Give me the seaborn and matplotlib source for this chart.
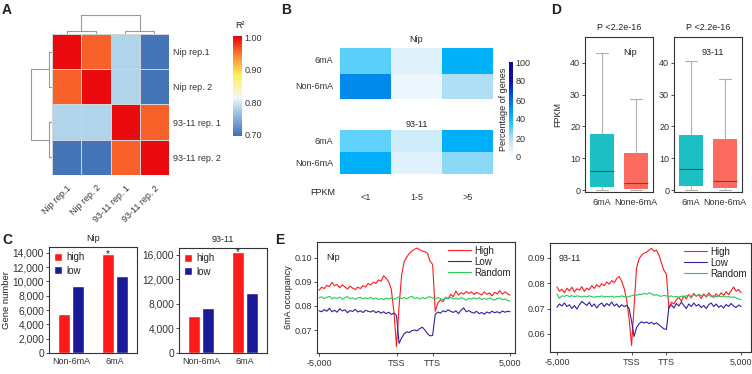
import matplotlib
matplotlib.use("Agg")
import matplotlib.pyplot as plt
import numpy as np
import pandas as pd
import seaborn as sns
from matplotlib.colors import LinearSegmentedColormap
from matplotlib.ticker import FuncFormatter

W, H = 752, 374

# ---- A: replicate correlation (R^2)
REPLICATES = ["Nip rep.1", "Nip rep. 2", "93-11 rep. 1", "93-11 rep. 2"]
R2 = [
    [1.00, 0.96, 0.78, 0.70],
    [0.96, 1.00, 0.78, 0.70],
    [0.78, 0.78, 1.00, 0.96],
    [0.70, 0.70, 0.96, 1.00],
]

# ---- B: percentage of genes per FPKM bin
FPKM_BINS = ["<1", "1-5", ">5"]
B_ROWS = ["6mA", "Non-6mA"]
PCT_NIP = [[30, 8, 43], [52, 5, 20]]
PCT_9311 = [[29, 12, 44], [44, 8, 24]]

# ---- C: gene numbers
C_GROUPS = ["Non-6mA", "6mA"]
NIP_HIGH = [5400, 13800]
NIP_LOW = [9300, 10700]
I93_HIGH = [6100, 16400]
I93_LOW = [7400, 9800]

# ---- D: FPKM five-number summaries (min, q1, median, q3, max)
D_GROUPS = ["6mA", "None-6mA"]
NIP_6MA = [0.0, 1.0, 6.0, 17.8, 43.0]
NIP_NON = [0.0, 0.3, 2.2, 11.8, 28.6]
I93_6MA = [0.0, 1.5, 6.8, 17.2, 40.6]
I93_NON = [0.0, 0.8, 3.0, 16.0, 35.0]

# ---- E: 6mA occupancy profiles (upstream 30 bins, gene body 14, downstream 30)
E_TICKS = [0, 30, 44, 74]
E_TICKLABELS = ["-5,000", "TSS", "TTS", "5,000"]
NIP_HIGH_E = [
    0.0865, 0.0878, 0.0872, 0.0885, 0.0880, 0.0898, 0.0884, 0.0889, 0.0876, 0.0887,
    0.0879, 0.0870, 0.0882, 0.0874, 0.0868, 0.0878, 0.0872, 0.0884, 0.0879, 0.0893,
    0.0887, 0.0899, 0.0893, 0.0908, 0.0902, 0.0925, 0.0915, 0.0900, 0.0868, 0.0775,
    0.0632, 0.0800, 0.0930, 0.0985, 0.1003, 0.1018, 0.1028, 0.1035, 0.1040, 0.1033,
    0.1027, 0.1025, 0.1018, 0.0985, 0.0972,
    0.0778, 0.0812, 0.0825, 0.0818, 0.0836, 0.0830, 0.0848, 0.0838, 0.0862, 0.0845,
    0.0855, 0.0849, 0.0860, 0.0852, 0.0858, 0.0847, 0.0856, 0.0851, 0.0846, 0.0858,
    0.0848, 0.0854, 0.0842, 0.0857, 0.0850, 0.0863, 0.0849, 0.0858, 0.0851, 0.0845,
]
NIP_LOW_E = [
    0.0780, 0.0776, 0.0785, 0.0778, 0.0790, 0.0776, 0.0782, 0.0774, 0.0788, 0.0779,
    0.0784, 0.0772, 0.0781, 0.0777, 0.0786, 0.0775, 0.0780, 0.0773, 0.0782, 0.0778,
    0.0775, 0.0781, 0.0772, 0.0778, 0.0770, 0.0776, 0.0768, 0.0774, 0.0765, 0.0770,
    0.0760, 0.0645, 0.0668, 0.0685, 0.0693, 0.0690, 0.0698, 0.0700, 0.0697, 0.0706,
    0.0712, 0.0700, 0.0685, 0.0676, 0.0678,
    0.0765, 0.0775, 0.0770, 0.0780, 0.0776, 0.0784, 0.0778, 0.0773, 0.0780, 0.0768,
    0.0782, 0.0792, 0.0776, 0.0781, 0.0774, 0.0770, 0.0778, 0.0768, 0.0773, 0.0766,
    0.0775, 0.0770, 0.0778, 0.0772, 0.0776, 0.0770, 0.0779, 0.0774, 0.0778, 0.0776,
]
NIP_RANDOM_E = [
    0.0834, 0.0838, 0.0830, 0.0836, 0.0840, 0.0829, 0.0835, 0.0831, 0.0837, 0.0828,
    0.0833, 0.0839, 0.0830, 0.0834, 0.0827, 0.0833, 0.0836, 0.0829, 0.0834, 0.0830,
    0.0836, 0.0828, 0.0833, 0.0827, 0.0831, 0.0826, 0.0832, 0.0829, 0.0834, 0.0828,
    0.0832, 0.0838, 0.0830, 0.0835, 0.0829, 0.0836, 0.0840, 0.0831, 0.0834, 0.0829,
    0.0835, 0.0830, 0.0836, 0.0838, 0.0833,
    0.0829, 0.0835, 0.0831, 0.0826, 0.0834, 0.0830, 0.0836, 0.0828, 0.0833, 0.0827,
    0.0835, 0.0830, 0.0824, 0.0832, 0.0828, 0.0834, 0.0829, 0.0835, 0.0826, 0.0831,
    0.0827, 0.0833, 0.0828, 0.0824, 0.0830, 0.0834, 0.0826, 0.0829, 0.0823, 0.0820,
]
I93_HIGH_E = [
    0.0785, 0.0768, 0.0776, 0.0762, 0.0780, 0.0770, 0.0784, 0.0765, 0.0778, 0.0772,
    0.0786, 0.0768, 0.0780, 0.0774, 0.0790, 0.0779, 0.0794, 0.0785, 0.0798, 0.0790,
    0.0805, 0.0796, 0.0810, 0.0802, 0.0818, 0.0826, 0.0808, 0.0780, 0.0735, 0.0660,
    0.0555, 0.0710, 0.0860, 0.0895, 0.0910, 0.0918, 0.0922, 0.0930, 0.0937, 0.0925,
    0.0930, 0.0910, 0.0880, 0.0850, 0.0835,
    0.0700, 0.0725, 0.0718, 0.0735, 0.0745, 0.0728, 0.0750, 0.0738, 0.0755, 0.0742,
    0.0760, 0.0748, 0.0756, 0.0740, 0.0758, 0.0745, 0.0762, 0.0750, 0.0744, 0.0758,
    0.0748, 0.0762, 0.0752, 0.0766, 0.0755, 0.0770, 0.0785, 0.0768, 0.0775, 0.0762,
]
I93_LOW_E = [
    0.0705, 0.0718, 0.0710, 0.0722, 0.0708, 0.0715, 0.0700, 0.0712, 0.0698, 0.0715,
    0.0728, 0.0720, 0.0712, 0.0725, 0.0708, 0.0718, 0.0702, 0.0715, 0.0722, 0.0708,
    0.0720, 0.0712, 0.0726, 0.0710, 0.0718, 0.0705, 0.0715, 0.0708, 0.0712, 0.0700,
    0.0650, 0.0590, 0.0625, 0.0640, 0.0648, 0.0643, 0.0647, 0.0641, 0.0646, 0.0638,
    0.0644, 0.0636, 0.0628, 0.0620, 0.0618,
    0.0705, 0.0715, 0.0702, 0.0720, 0.0710, 0.0725, 0.0712, 0.0700, 0.0718, 0.0708,
    0.0722, 0.0710, 0.0716, 0.0704, 0.0712, 0.0700, 0.0715, 0.0722, 0.0708, 0.0718,
    0.0705, 0.0712, 0.0702, 0.0716, 0.0708, 0.0720, 0.0710, 0.0704, 0.0714, 0.0708,
]
I93_RANDOM_E = [
    0.0757, 0.0740, 0.0750, 0.0748, 0.0752, 0.0747, 0.0751, 0.0746, 0.0750, 0.0748,
    0.0745, 0.0749, 0.0746, 0.0750, 0.0747, 0.0744, 0.0748, 0.0746, 0.0750, 0.0745,
    0.0748, 0.0746, 0.0749, 0.0744, 0.0748, 0.0746, 0.0750, 0.0747, 0.0745, 0.0748,
    0.0750, 0.0754, 0.0752, 0.0757, 0.0755, 0.0760, 0.0756, 0.0762, 0.0758, 0.0752,
    0.0755, 0.0750, 0.0748, 0.0752, 0.0750,
    0.0747, 0.0750, 0.0745, 0.0748, 0.0744, 0.0749, 0.0746, 0.0750, 0.0752, 0.0748,
    0.0754, 0.0750, 0.0755, 0.0751, 0.0753, 0.0749, 0.0752, 0.0748, 0.0751, 0.0747,
    0.0750, 0.0746, 0.0749, 0.0745, 0.0748, 0.0744, 0.0746, 0.0742, 0.0738, 0.0735,
]

RED = "#FF1A1A"
NAVY = "#1A1A99"
TEAL = "#1CBFC3"
SALMON = "#FB6B5F"
GRAY = "#9a9a9a"

sns.set_style("ticks")
plt.rcParams["font.family"] = ["Liberation Sans", "DejaVu Sans"]
plt.rcParams.update({
    "font.size": 6.5,
    "axes.linewidth": 0.8,
    "axes.edgecolor": "#333333",
    "xtick.major.size": 2,
    "ytick.major.size": 2,
    "xtick.major.width": 0.6,
    "ytick.major.width": 0.6,
    "xtick.labelsize": 6.5,
    "ytick.labelsize": 6.5,
    "xtick.major.pad": 2,
    "ytick.major.pad": 1.5,
    "text.color": "#222222",
    "xtick.color": "#333333",
    "ytick.color": "#333333",
    "axes.labelcolor": "#222222",
})

fig = plt.figure(figsize=(W / 100, H / 100), dpi=100)


def px_axes(x0, y0, x1, y1):
    return fig.add_axes([x0 / W, 1 - y1 / H, (x1 - x0) / W, (y1 - y0) / H])


def letter(x, y, s):
    fig.text(x / W, 1 - y / H, s, fontsize=10, fontweight="bold", ha="left", va="top")


# ================= A =================
r2_df = pd.DataFrame(R2, index=REPLICATES, columns=REPLICATES)
a_cmap = LinearSegmentedColormap.from_list(
    "r2", [(0.0, "#3E6FB6"), (0.3, "#BBDDEF"), (0.38, "#F3F8F2"),
           (0.62, "#FFEE55"), (0.82, "#F97A30"), (1.0, "#E8000B")])
ax_a = px_axes(52, 34, 169, 175)
cax_a = px_axes(233, 36, 242, 136)
sns.heatmap(r2_df, ax=ax_a, cmap=a_cmap, vmin=0.695, vmax=1.005,
            linewidths=0.4, linecolor="#d4d4d4", cbar_ax=cax_a,
            cbar_kws={"ticks": [0.70, 0.80, 0.90, 1.00]})
ax_a.yaxis.tick_right()
ax_a.set_yticklabels(REPLICATES, rotation=0, fontsize=6.5)
ax_a.set_xticklabels(REPLICATES, rotation=45, ha="right", rotation_mode="anchor", fontsize=6.5)
ax_a.tick_params(length=0)
ax_a.tick_params(axis="x", pad=6)
ax_a.tick_params(axis="y", pad=3)
ax_a.set_xlabel("")
ax_a.set_ylabel("")
cax_a.tick_params(length=0, pad=2, labelsize=6.5)
cax_a.yaxis.set_major_formatter(FuncFormatter(lambda v, _: f"{v:.2f}"))
fig.text(235 / W, 1 - 25 / H, "R²", fontsize=6.5, ha="left", va="center")


def draw_dendro(ax, r2, orient):
    d = 1 - np.array(r2)
    h_a = d[0, 1]
    h_b = d[2, 3]
    h_root = d[:2, 2:].mean()
    segs = [
        ([0.5, 0.5, 1.5, 1.5], [0, h_a, h_a, 0]),
        ([2.5, 2.5, 3.5, 3.5], [0, h_b, h_b, 0]),
        ([1.0, 1.0, 3.0, 3.0], [h_a, h_root, h_root, h_b]),
    ]
    for xs, ys in segs:
        if orient == "top":
            ax.plot(xs, ys, color=GRAY, lw=0.8)
        else:
            ax.plot(ys, xs, color=GRAY, lw=0.8)
    if orient == "top":
        ax.set_xlim(0, 4)
        ax.set_ylim(0, h_root * 1.04)
    else:
        ax.set_ylim(4, 0)
        ax.set_xlim(h_root * 1.04, 0)
    ax.axis("off")


draw_dendro(px_axes(52, 14, 169, 34), R2, "top")
draw_dendro(px_axes(30, 34, 52, 175), R2, "left")

# ================= B =================
b_cmap = LinearSegmentedColormap.from_list(
    "pct", [(0.0, "#FFFFFF"), (0.2, "#AEDFF5"), (0.4, "#00BFFF"),
            (0.6, "#0068E0"), (0.8, "#0A10B0"), (1.0, "#1B0A80")])
ax_b1 = px_axes(340, 48, 493, 99)
ax_b2 = px_axes(340, 130, 493, 174)
cax_b = px_axes(509, 62, 513, 157)
sns.heatmap(pd.DataFrame(PCT_NIP, index=B_ROWS, columns=FPKM_BINS), ax=ax_b1,
            cmap=b_cmap, vmin=0, vmax=100, cbar=False)
sns.heatmap(pd.DataFrame(PCT_9311, index=B_ROWS, columns=FPKM_BINS), ax=ax_b2,
            cmap=b_cmap, vmin=0, vmax=100, cbar_ax=cax_b,
            cbar_kws={"ticks": [0, 20, 40, 60, 80, 100]})
for ax, title, pad in [(ax_b1, "Nip", 4), (ax_b2, "93-11", 2)]:
    ax.set_title(title, fontsize=6.5, pad=pad)
    ax.set_yticklabels(B_ROWS, rotation=0, fontsize=6.5)
    ax.tick_params(length=0, pad=5)
    ax.set_xlabel("")
    ax.set_ylabel("")
ax_b1.set_xticks([])
ax_b2.tick_params(axis="x", pad=14)
ax_b2.set_xticklabels(FPKM_BINS, rotation=0, fontsize=6.5)
ax_b2.text(-0.11, -0.43, "FPKM", transform=ax_b2.transAxes, fontsize=6.5,
           ha="center", va="center")
cax_b.tick_params(length=0, pad=2, labelsize=6.5)
cax_b.yaxis.set_label_position("left")
cax_b.set_ylabel("Percentage of genes", fontsize=6.5, labelpad=1)

# ================= C =================
def draw_bars(ax, high, low, title, yticks, ymax, ylabel=None):
    df = pd.DataFrame({
        "group": C_GROUPS * 2,
        "level": ["high"] * 2 + ["low"] * 2,
        "count": list(high) + list(low),
    })
    sns.barplot(data=df, x="group", y="count", hue="level", order=C_GROUPS,
                hue_order=["high", "low"], palette={"high": RED, "low": NAVY},
                width=0.62, gap=0.1, saturation=1, errorbar=None, ax=ax)
    ax.set_ylim(0, ymax)
    ax.set_xlim(-0.5, 1.5)
    ax.set_yticks(yticks)
    ax.yaxis.set_major_formatter(FuncFormatter(lambda v, _: f"{int(v):,}"))
    ax.tick_params(axis="x", length=0, pad=3)
    ax.tick_params(axis="y", labelsize=7.4)
    ax.set_xlabel("")
    ax.set_ylabel(ylabel if ylabel else "", fontsize=6.8, labelpad=1)
    ax.set_title(title, fontsize=6.5, pad=4)
    top = max(ax.patches[:4], key=lambda p: p.get_height())
    ax.text(top.get_x() + top.get_width() / 2, top.get_height() + ymax * 0.005, "*",
            ha="center", va="center", fontsize=7)
    ax.legend(loc="upper left", frameon=False, fontsize=7, handlelength=0.8,
              handleheight=0.9, handletextpad=0.4, labelspacing=0.35,
              borderaxespad=0.35, borderpad=0.2)


draw_bars(px_axes(49, 247, 137, 353), NIP_HIGH, NIP_LOW, "Nip",
          range(0, 14001, 2000), 14800, "Gene number")
draw_bars(px_axes(179, 248, 267, 353), I93_HIGH, I93_LOW, "93-11",
          range(0, 16001, 4000), 17100)

# ================= D =================
def draw_box(ax, s6, sn, label, lx, ylabel=None):
    df = pd.DataFrame({"group": [D_GROUPS[0]] * 5 + [D_GROUPS[1]] * 5,
                       "FPKM": list(s6) + list(sn)})
    sns.boxplot(data=df, x="group", y="FPKM", hue="group", order=D_GROUPS,
                palette=[TEAL, SALMON], legend=False, whis=(0, 100), width=0.68,
                saturation=1, linewidth=0.8, fliersize=0, ax=ax,
                boxprops={"edgecolor": "none"},
                whiskerprops={"color": "#b0b0b0", "linewidth": 0.8},
                capprops={"color": "#b0b0b0", "linewidth": 0.8},
                medianprops={"color": "#000000", "alpha": 0.45, "linewidth": 0.8})
    ax.set_ylim(-0.5, 48)
    ax.set_xlim(-0.5, 1.5)
    ax.set_yticks([0, 10, 20, 30, 40])
    ax.set_xlabel("")
    ax.set_ylabel(ylabel if ylabel else "", fontsize=6.5, labelpad=6)
    ax.tick_params(axis="x", length=0, pad=4)
    ax.set_title("P <2.2e-16", fontsize=6.5, pad=5)
    ax.text(lx, 0.9, label, transform=ax.transAxes, fontsize=6.5, ha="center", va="center")
    for sp in ax.spines.values():
        sp.set_visible(True)


draw_box(px_axes(585, 37, 653, 192), NIP_6MA, NIP_NON, "Nip", 0.66, "FPKM")
draw_box(px_axes(674, 37, 742, 192), I93_6MA, I93_NON, "93-11", 0.57)

# ================= E =================
def draw_profile(ax, high, low, rand, label, yticks, ylim, xlim, ylabel=None):
    pos = np.arange(len(high))
    sns.lineplot(x=pos, y=high, ax=ax, color=RED, lw=0.8, label="High")
    sns.lineplot(x=pos, y=low, ax=ax, color="#2E1FA8", lw=0.8, label="Low")
    sns.lineplot(x=pos, y=rand, ax=ax, color="#22CC55", lw=0.8, label="Random")
    ax.set_xticks(E_TICKS)
    ax.set_xticklabels(E_TICKLABELS)
    ax.set_yticks(yticks)
    ax.yaxis.set_major_formatter(FuncFormatter(lambda v, _: f"{v:.2f}"))
    ax.set_ylim(*ylim)
    ax.set_xlim(*xlim)
    ax.set_xlabel("")
    ax.set_ylabel(ylabel if ylabel else "", fontsize=6.5, labelpad=1)
    ax.text(0.045, 0.86, label, transform=ax.transAxes, fontsize=6.5, ha="left", va="center")
    ax.legend(loc="upper right", frameon=False, fontsize=7, handlelength=2.3,
              handletextpad=0.4, labelspacing=0.1, borderaxespad=0.2, borderpad=0.2)


draw_profile(px_axes(317, 242, 515, 353), NIP_HIGH_E, NIP_LOW_E, NIP_RANDOM_E, "Nip",
             [0.07, 0.08, 0.09, 0.10], (0.0605, 0.1065), (-0.8, 75.9), "6mA occupancy")
draw_profile(px_axes(550, 243, 751, 352), I93_HIGH_E, I93_LOW_E, I93_RANDOM_E, "93-11",
             [0.06, 0.07, 0.08, 0.09], (0.0529, 0.0958), (-2.8, 78.0))

letter(2, 3, "A")
letter(281, 3, "B")
letter(2, 233, "C")
letter(551, 3, "D")
letter(275, 233, "E")

fig.savefig("out.png", dpi=100)
